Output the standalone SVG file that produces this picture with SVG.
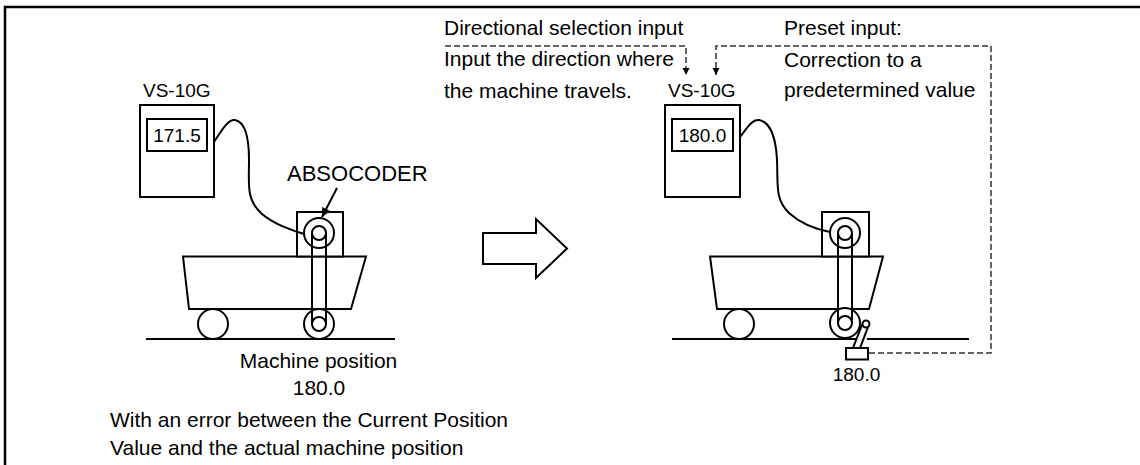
<svg xmlns="http://www.w3.org/2000/svg" width="1140" height="465" viewBox="0 0 1140 465">
  <defs>
    <style>
      .ln { fill: none; stroke: #000; stroke-width: 2; stroke-linejoin: miter; }
      .wh { fill: #fff; stroke: #000; stroke-width: 2; }
      .dash { fill: none; stroke: #333; stroke-width: 1.5; stroke-dasharray: 6 3; }
      .t { font-family: "Liberation Sans", Arial, sans-serif; font-size: 21px; fill: #000; }
      .s { font-size: 19px; }
    </style>
    <marker id="tri" viewBox="0 0 10 10" refX="10" refY="5" markerWidth="7" markerHeight="8" markerUnits="userSpaceOnUse" orient="auto">
      <path d="M0,0 L10,5 L0,10 Z" fill="#000"/>
    </marker>
    <marker id="tri2" viewBox="0 0 10 10" refX="10" refY="5" markerWidth="10" markerHeight="9" markerUnits="userSpaceOnUse" orient="auto">
      <path d="M0,0 L10,5 L0,10 Z" fill="#000"/>
    </marker>
  </defs>

  <rect width="1140" height="465" fill="#fff"/>

  <!-- frame -->
  <path d="M5,465 V7 H1140" fill="none" stroke="#000" stroke-width="2.5"/>

  <!-- left scene: before correction -->
  <g id="controller-left">
    <text class="t s" x="143" y="97">VS-10G</text>
    <rect class="wh" x="140" y="105" width="74" height="92"/>
    <rect class="wh" x="147" y="119" width="60" height="32"/>
    <text class="t s" x="177" y="142" text-anchor="middle">171.5</text>
  </g>

  <g id="machine-left">
    <line class="ln" x1="146" y1="339" x2="395" y2="339"/>
    <path class="ln" d="M183,256.5 H366 L351,309 H189 Z"/>
    <rect class="wh" x="297" y="212" width="46" height="44.5"/>
    <circle class="wh" cx="213" cy="324" r="15"/>
    <circle class="wh" cx="319" cy="324" r="15"/>
    <circle class="wh" cx="319" cy="324" r="7"/>
    <circle class="wh" cx="319" cy="233" r="15"/>
    <circle class="wh" cx="319" cy="233" r="7"/>
    <line class="ln" x1="312" y1="233" x2="312" y2="324"/>
    <line class="ln" x1="326" y1="233" x2="326" y2="324"/>
    <text class="t" x="318.5" y="368" text-anchor="middle">Machine position</text>
    <text class="t" x="319" y="395" text-anchor="middle">180.0</text>
  </g>

  <g id="absocoder-label">
    <text class="t" x="287" y="181" style="font-size:22px">ABSOCODER</text>
  </g>

  <g id="note-left">
    <text class="t" x="110" y="427">With an error between the Current Position</text>
    <text class="t" x="110" y="455">Value and the actual machine position</text>
  </g>

  <!-- transition arrow -->
  <g id="transition">
    <path class="wh" d="M483,233 H536 V219 L567,248.5 L536,278 V264 H483 Z"/>
  </g>

  <!-- right scene: after correction -->
  <g id="controller-right">
    <text class="t s" x="668" y="97">VS-10G</text>
    <rect class="wh" x="665" y="105" width="75" height="92"/>
    <rect class="wh" x="672" y="119" width="61" height="32"/>
    <text class="t s" x="702.5" y="142" text-anchor="middle">180.0</text>
  </g>

  <g id="machine-right">
    <line class="ln" x1="672" y1="339" x2="856" y2="339"/>
    <line class="ln" x1="867" y1="339" x2="969" y2="339"/>
    <path class="ln" d="M710,256.5 H883 L869,309 H717 Z"/>
    <rect class="wh" x="822" y="212" width="47" height="44.5"/>
    <circle class="wh" cx="739" cy="324" r="15"/>
    <circle class="wh" cx="845" cy="323" r="15"/>
    <circle class="wh" cx="845" cy="323" r="7"/>
    <circle class="wh" cx="845" cy="233" r="15"/>
    <circle class="wh" cx="845" cy="233" r="7"/>
    <line class="ln" x1="838" y1="233" x2="838" y2="323"/>
    <line class="ln" x1="852" y1="233" x2="852" y2="323"/>
  </g>

  <g id="limit-switch">
    <path class="wh" d="M853,348 L860,348 L868,327 L862,325 Z"/>
    <circle class="wh" cx="866" cy="324" r="3.5"/>
    <rect class="wh" x="846" y="348" width="22" height="11.5"/>
    <text class="t s" x="856.5" y="381" text-anchor="middle">180.0</text>
  </g>

  <g id="input-labels">
    <text class="t" x="444" y="35">Directional selection input</text>
    <text class="t" x="444" y="66">Input the direction where</text>
    <text class="t" x="444" y="98">the machine travels.</text>
    <text class="t" x="784" y="35">Preset input:</text>
    <text class="t" x="784" y="67">Correction to a</text>
    <text class="t" x="784" y="97">predetermined value</text>
  </g>

  <!-- connectors -->
  <g id="connectors">
    <path class="ln" d="M214,142 C222,130 228,119 235,120 C246,122 249,140 249,160 C249,185 246,200 262,214 C275,225 292,230 304,234"/>
    <path class="ln" d="M740,137 C747,128 752,119 759,120 C771,122 776,140 777,160 C778,185 775,200 789,213 C801,224 815,229 830,232"/>
    <line class="ln" x1="337" y1="188" x2="322" y2="217" marker-end="url(#tri2)"/>
    <path class="dash" d="M445,46 H686 V75" marker-end="url(#tri)"/>
    <path class="dash" d="M869,353 H991 V46 H716 V75" marker-end="url(#tri)"/>
  </g>
</svg>
